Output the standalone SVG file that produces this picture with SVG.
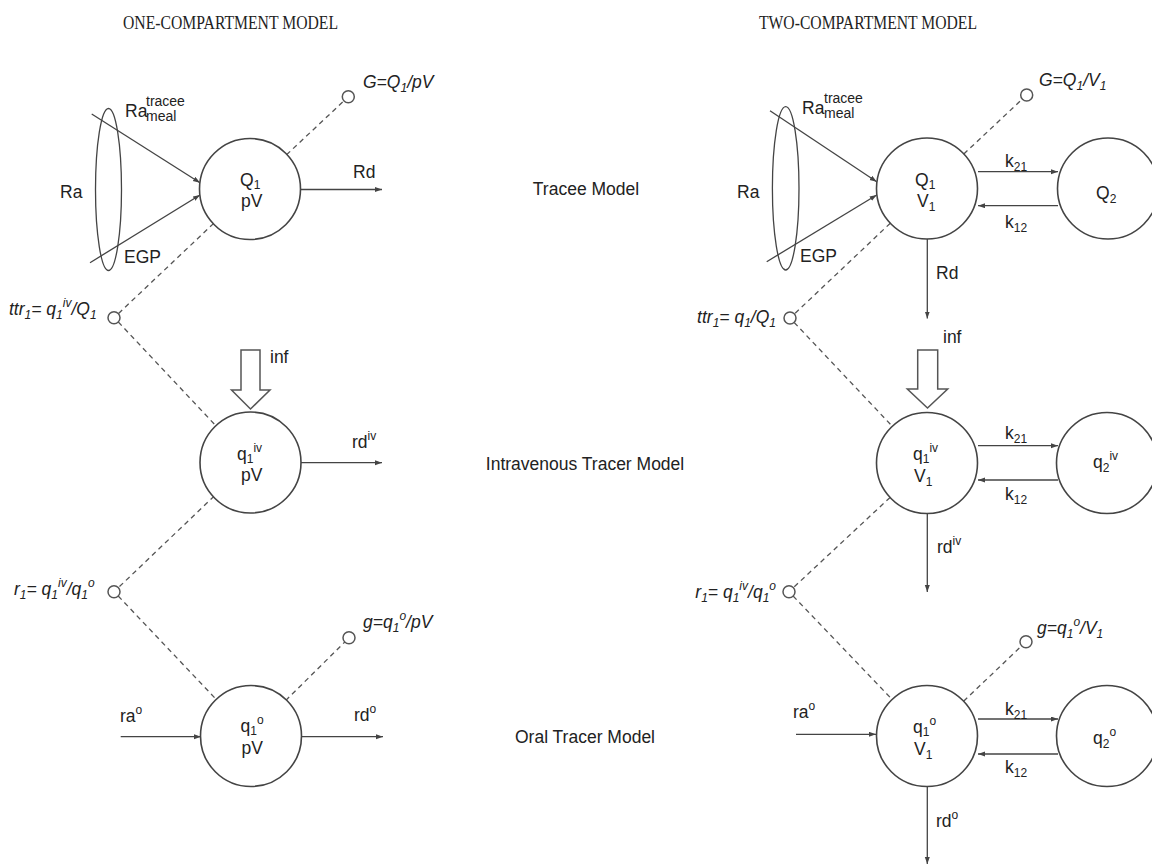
<svg xmlns="http://www.w3.org/2000/svg" width="1152" height="866" viewBox="0 0 1152 866">
<style>
.ln{stroke:#444;stroke-width:1.3;fill:none}
.nd{stroke:#444;stroke-width:1.6;fill:#fff}
.sm{stroke:#555;stroke-width:1.5;fill:#fff}
.ds{stroke:#555;stroke-width:1.3;stroke-dasharray:5 4;fill:none}
.t{font-family:"Liberation Sans",Arial,sans-serif;font-size:17.5px;fill:#222}
.it{font-style:italic}
.s{font-size:12px}
.s2{font-size:14px}
.ttl{font-family:"Liberation Serif","Times New Roman",serif;font-size:18px;fill:#222}
.hol{stroke:#555;stroke-width:1.5;fill:#fff}
</style>
<defs>
<marker id="ah" markerUnits="userSpaceOnUse" markerWidth="8" markerHeight="6" refX="7" refY="2.5" orient="auto">
<path d="M0,0 L7,2.5 L0,5 z" fill="#444"/>
</marker>
</defs>
<rect width="1152" height="866" fill="#fff"/>

<g id="titles">
<text class="ttl" x="123" y="29" textLength="215" lengthAdjust="spacingAndGlyphs">ONE-COMPARTMENT MODEL</text>
<text class="ttl" x="759" y="29" textLength="218" lengthAdjust="spacingAndGlyphs">TWO-COMPARTMENT MODEL</text>
<text class="t" x="586" y="195" text-anchor="middle" font-size="18.5">Tracee Model</text>
<text class="t" x="585" y="470" text-anchor="middle" font-size="18.5">Intravenous Tracer Model</text>
<text class="t" x="585" y="743" text-anchor="middle" font-size="18.5">Oral Tracer Model</text>
</g>

<g id="connectors">
<ellipse class="ln" cx="108.5" cy="189.5" rx="13" ry="81"/>
<line class="ln" x1="91.7" y1="114" x2="200" y2="182.7" marker-end="url(#ah)"/>
<line class="ln" x1="90" y1="262.7" x2="200" y2="195" marker-end="url(#ah)"/>
<line class="ln" x1="300.5" y1="189.5" x2="382" y2="189.5" marker-end="url(#ah)"/>
<line class="ds" x1="286.5" y1="154.8" x2="344" y2="100.8"/>
<line class="ds" x1="213.7" y1="223.4" x2="118.5" y2="313.5"/>
<line class="ds" x1="118.3" y1="322" x2="216.2" y2="426.1"/>
<line class="ln" x1="301" y1="462.7" x2="382" y2="462.7" marker-end="url(#ah)"/>
<line class="ds" x1="214.2" y1="496.1" x2="118.5" y2="587.5"/>
<line class="ds" x1="118.2" y1="596" x2="216.6" y2="699.8"/>
<line class="ds" x1="285.6" y1="700.6" x2="344.8" y2="642"/>
<line class="ln" x1="120.7" y1="736.7" x2="201" y2="736.7" marker-end="url(#ah)"/>
<line class="ln" x1="301.5" y1="736.7" x2="383" y2="736.7" marker-end="url(#ah)"/>
<ellipse class="ln" cx="785.7" cy="188.3" rx="13.3" ry="81.7"/>
<line class="ln" x1="770" y1="110.7" x2="876.7" y2="181.7" marker-end="url(#ah)"/>
<line class="ln" x1="766.7" y1="261.7" x2="876.7" y2="195" marker-end="url(#ah)"/>
<line class="ln" x1="978" y1="171.7" x2="1058" y2="171.7" marker-end="url(#ah)"/>
<line class="ln" x1="1058" y1="205.7" x2="978" y2="205.7" marker-end="url(#ah)"/>
<line class="ln" x1="927.3" y1="239" x2="927.3" y2="318.5" marker-end="url(#ah)"/>
<line class="ds" x1="963.8" y1="154" x2="1022.3" y2="99.1"/>
<line class="ds" x1="890.3" y1="223.2" x2="794.4" y2="314"/>
<line class="ds" x1="794.2" y1="322.5" x2="892.3" y2="426.3"/>
<line class="ln" x1="978" y1="445.7" x2="1058" y2="445.7" marker-end="url(#ah)"/>
<line class="ln" x1="1058" y1="480" x2="978" y2="480" marker-end="url(#ah)"/>
<line class="ln" x1="927.3" y1="513.5" x2="927.3" y2="592" marker-end="url(#ah)"/>
<line class="ds" x1="890.1" y1="497.4" x2="793.4" y2="587.6"/>
<line class="ds" x1="793.1" y1="596" x2="892.1" y2="699.5"/>
<line class="ds" x1="963.6" y1="701.2" x2="1021.7" y2="645.8"/>
<line class="ln" x1="796" y1="734.3" x2="876" y2="734.3" marker-end="url(#ah)"/>
<line class="ln" x1="978" y1="719" x2="1058" y2="719" marker-end="url(#ah)"/>
<line class="ln" x1="1058" y1="754" x2="978" y2="754" marker-end="url(#ah)"/>
<line class="ln" x1="927.3" y1="786.5" x2="927.3" y2="864" marker-end="url(#ah)"/>
<polygon class="hol" points="241,350 260,350 260,390 270,390 250.5,409 231.5,390 241,390"/>
<polygon class="hol" points="917.7,350 937.7,350 937.7,389 947.7,389 927.5,408 907.3,389 917.7,389"/>
</g>

<g id="labels">
<text class="t" x="60" y="197.5">Ra</text>
<text class="t" x="125" y="117">Ra<tspan class="s2" x="146" y="106">tracee</tspan><tspan class="s2" x="146" y="121">meal</tspan></text>
<text class="t" x="124" y="263">EGP</text>
<text class="t" x="353" y="178">Rd</text>
<text class="t it" x="363" y="88">G=Q<tspan class="s" dy="4">1</tspan><tspan dy="-4">/pV</tspan></text>
<text class="t it" x="9" y="315">ttr<tspan class="s" dy="4">1</tspan><tspan dy="-4">= q</tspan><tspan class="s" dy="4">1</tspan><tspan class="s" dy="-12">iv</tspan><tspan dy="8">/Q</tspan><tspan class="s" dy="4">1</tspan></text>
<text class="t" x="270" y="363">inf</text>
<text class="t" x="352" y="448">rd<tspan class="s" dy="-8">iv</tspan></text>
<text class="t it" x="14" y="595">r<tspan class="s" dy="4">1</tspan><tspan dy="-4">= q</tspan><tspan class="s" dy="4">1</tspan><tspan class="s" dy="-12">iv</tspan><tspan dy="8">/q</tspan><tspan class="s" dy="4">1</tspan><tspan class="s" dy="-12">o</tspan></text>
<text class="t it" x="363" y="628">g=q<tspan class="s" dy="4">1</tspan><tspan class="s" dy="-12">o</tspan><tspan dy="8">/pV</tspan></text>
<text class="t" x="120" y="722">ra<tspan class="s" dy="-8">o</tspan></text>
<text class="t" x="354" y="721">rd<tspan class="s" dy="-8">o</tspan></text>

<text class="t" x="737" y="197.5">Ra</text>
<text class="t" x="802" y="114">Ra<tspan class="s2" x="824" y="103">tracee</tspan><tspan class="s2" x="824" y="118">meal</tspan></text>
<text class="t" x="800" y="262">EGP</text>
<text class="t" x="1005" y="167">k<tspan class="s" dy="4">21</tspan></text>
<text class="t" x="1005" y="228">k<tspan class="s" dy="4">12</tspan></text>
<text class="t" x="936" y="279">Rd</text>
<text class="t it" x="1039" y="86">G=Q<tspan class="s" dy="4">1</tspan><tspan dy="-4">/V</tspan><tspan class="s" dy="4">1</tspan></text>
<text class="t it" x="776" y="323" text-anchor="end">ttr<tspan class="s" dy="4">1</tspan><tspan dy="-4">= q</tspan><tspan class="s" dy="4">1</tspan><tspan dy="-4">/Q</tspan><tspan class="s" dy="4">1</tspan></text>
<text class="t" x="943" y="343">inf</text>
<text class="t" x="1005" y="439">k<tspan class="s" dy="4">21</tspan></text>
<text class="t" x="1005" y="500">k<tspan class="s" dy="4">12</tspan></text>
<text class="t" x="937" y="553">rd<tspan class="s" dy="-8">iv</tspan></text>
<text class="t it" x="776" y="598" text-anchor="end">r<tspan class="s" dy="4">1</tspan><tspan dy="-4">= q</tspan><tspan class="s" dy="4">1</tspan><tspan class="s" dy="-12">iv</tspan><tspan dy="8">/q</tspan><tspan class="s" dy="4">1</tspan><tspan class="s" dy="-12">o</tspan></text>
<text class="t it" x="1037" y="634">g=q<tspan class="s" dy="4">1</tspan><tspan class="s" dy="-12">o</tspan><tspan dy="8">/V</tspan><tspan class="s" dy="4">1</tspan></text>
<text class="t" x="793" y="718">ra<tspan class="s" dy="-8">o</tspan></text>
<text class="t" x="1005" y="715">k<tspan class="s" dy="4">21</tspan></text>
<text class="t" x="1005" y="773">k<tspan class="s" dy="4">12</tspan></text>
<text class="t" x="936" y="827">rd<tspan class="s" dy="-8">o</tspan></text>
</g>

<g id="obs-G"><circle class="sm" cx="348.3" cy="96.7" r="6"/></g>
<g id="obs-ttr"><circle class="sm" cx="114" cy="317.7" r="6"/></g>
<g id="obs-r1"><circle class="sm" cx="114" cy="591.7" r="6"/></g>
<g id="obs-g"><circle class="sm" cx="349" cy="637.7" r="6"/></g>
<g id="obs2-G"><circle class="sm" cx="1026.7" cy="95" r="6"/></g>
<g id="obs2-ttr"><circle class="sm" cx="790" cy="318" r="6"/></g>
<g id="obs2-r1"><circle class="sm" cx="789" cy="591.7" r="6"/></g>
<g id="obs2-g"><circle class="sm" cx="1026" cy="641.7" r="6"/></g>

<g id="node-Q1">
<circle class="nd" cx="250" cy="189" r="50.5"/>
<text class="t"><tspan x="240" y="186">Q</tspan><tspan class="s" dy="3">1</tspan><tspan x="241" y="207">pV</tspan></text>
</g>
<g id="node-q1iv">
<circle class="nd" cx="250.5" cy="462.5" r="50.5"/>
<text class="t"><tspan x="237" y="460">q</tspan><tspan class="s" dy="3">1</tspan><tspan class="s" dy="-11">iv</tspan><tspan x="241" y="481">pV</tspan></text>
</g>
<g id="node-q1o">
<circle class="nd" cx="251" cy="736" r="50.5"/>
<text class="t"><tspan x="240.5" y="732">q</tspan><tspan class="s" dy="3">1</tspan><tspan class="s" dy="-11">o</tspan><tspan x="241.5" y="754">pV</tspan></text>
</g>
<g id="node2-Q1">
<circle class="nd" cx="927" cy="188.5" r="50.5"/>
<text class="t"><tspan x="915" y="186">Q</tspan><tspan class="s" dy="3">1</tspan><tspan x="917" y="207">V</tspan><tspan class="s" dy="4">1</tspan></text>
</g>
<g id="node2-Q2">
<circle class="nd" cx="1108" cy="188.5" r="50.5"/>
<text class="t" x="1096" y="199">Q<tspan class="s" dy="4">2</tspan></text>
</g>
<g id="node2-q1iv">
<circle class="nd" cx="927" cy="463" r="50.5"/>
<text class="t"><tspan x="913" y="460">q</tspan><tspan class="s" dy="3">1</tspan><tspan class="s" dy="-11">iv</tspan><tspan x="914" y="482">V</tspan><tspan class="s" dy="4">1</tspan></text>
</g>
<g id="node2-q2iv">
<circle class="nd" cx="1107" cy="463" r="50.5"/>
<text class="t" x="1093" y="468">q<tspan class="s" dy="4">2</tspan><tspan class="s" dy="-12">iv</tspan></text>
</g>
<g id="node2-q1o">
<circle class="nd" cx="927" cy="736" r="50.5"/>
<text class="t"><tspan x="913" y="733">q</tspan><tspan class="s" dy="3">1</tspan><tspan class="s" dy="-11">o</tspan><tspan x="914" y="755">V</tspan><tspan class="s" dy="4">1</tspan></text>
</g>
<g id="node2-q2o">
<circle class="nd" cx="1107" cy="736" r="50.5"/>
<text class="t" x="1093" y="744">q<tspan class="s" dy="4">2</tspan><tspan class="s" dy="-12">o</tspan></text>
</g>
</svg>
